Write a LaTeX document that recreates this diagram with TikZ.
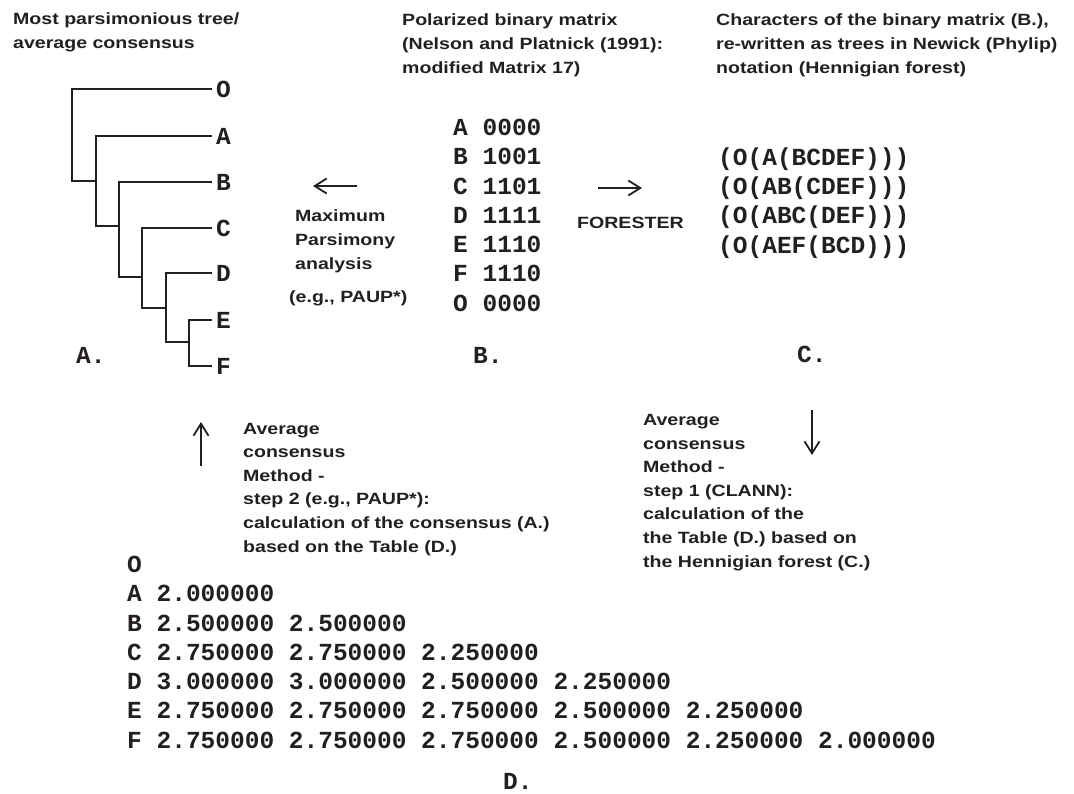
\documentclass[tikz,border=0pt]{standalone}
\usepackage{fontspec}
\usetikzlibrary{arrows.meta}
\newfontfamily\capfont{Liberation Sans}[FakeStretch=1.2]
\newfontfamily\codefont{Liberation Mono}[BoldFont={Liberation Mono Bold}]
\definecolor{ink}{RGB}{35,31,32}

\begin{document}
\begin{tikzpicture}[x=1pt,y=-1pt,
	caption/.style={anchor=base west,inner sep=0pt,align=left,text=ink,
		font=\capfont\bfseries\fontsize{16.3}{23.6}\selectfont},
	code/.style={anchor=base west,inner sep=0pt,align=left,text=ink,
		font=\codefont\bfseries\fontsize{24.5}{29.25}\selectfont},
	leaf/.style={anchor=west,inner sep=4pt,text=ink,
		font=\codefont\bfseries\fontsize{24.5}{29.25}\selectfont},
	branch/.style={draw=ink,line width=1.8pt},
	flow/.style={draw=ink,line width=1.8pt,-{Straight Barb[length=12pt,width=15pt]}}]
			\useasboundingbox (0,0) rectangle (1074,793);

			% headings (placed at the baseline of their last line)
			\node[caption] (capA) at (13,48) {Most parsimonious tree/\\average consensus};
			\node[caption] (capB) at (402,73) {Polarized binary matrix\\(Nelson and Platnick (1991):\\modified Matrix 17)};
			\node[caption] (capC) at (716,73) {Characters of the binary matrix (B.),\\re-written as trees in Newick (Phylip)\\notation (Hennigian forest)};

			% A. tree
			\node[leaf] (tO) at (212,89) {O};
			\node[leaf] (tA) at (212,136) {A};
			\node[leaf] (tB) at (212,182) {B};
			\node[leaf] (tC) at (212,228) {C};
			\node[leaf] (tD) at (212,273) {D};
			\node[leaf] (tE) at (212,320) {E};
			\node[leaf] (tF) at (212,366) {F};
			\coordinate (n0) at (72,181);
			\coordinate (n1) at (96,181);
			\coordinate (n2) at (119,226);
			\coordinate (n3) at (142,277);
			\coordinate (n4) at (166,308);
			\coordinate (n5) at (189,342);
			\draw[branch] (tO) -| (n0) -- (n1);
			\draw[branch] (tA) -| (n1) |- (n2);
			\draw[branch] (tB) -| (n2) |- (n3);
			\draw[branch] (tC) -| (n3) |- (n4);
			\draw[branch] (tD) -| (n4) |- (n5);
			\draw[branch] (tE) -| (n5) |- (tF);
			\node[code] (labA) at (76,363) {A.};

			% maximum parsimony
			\coordinate (mpR) at (357,186);
			\coordinate (mpL) at (313,186);
			\draw[flow] (mpR) -- (mpL);
			\node[caption] (mp) at (295,269) {Maximum\\Parsimony\\analysis};
			\node[caption] (paup) at (289,302) {(e.g., PAUP*)};

			% B. matrix
			\node[code] (matrix) at (453,311) {A 0000\\B 1001\\C 1101\\D 1111\\E 1110\\F 1110\\O 0000};
			\node[code] (labB) at (473,363) {B.};

			% forester
			\coordinate (fsL) at (598,188);
			\coordinate (fsR) at (642,188);
			\draw[flow] (fsL) -- (fsR);
			\node[caption] (forester) at (577,228) {FORESTER};

			% C. newick
			\node[code] (newick) at (718,253) {(O(A(BCDEF)))\\(O(AB(CDEF)))\\(O(ABC(DEF)))\\(O(AEF(BCD)))};
			\node[code] (labC) at (797,362) {C.};

			% consensus steps
			\coordinate (upB) at (201,466);
			\coordinate (upT) at (201,422);
			\draw[flow] (upB) -- (upT);
			\node[caption] (step2) at (243,552) {Average\\consensus\\Method -\\step 2 (e.g., PAUP*):\\calculation of the consensus (A.)\\based on the Table (D.)};
			\coordinate (dnT) at (812,410);
			\coordinate (dnB) at (812,455);
			\draw[flow] (dnT) -- (dnB);
			\node[caption] (step1) at (643,567) {Average\\consensus\\Method -\\step 1 (CLANN):\\calculation of the\\the Table (D.) based on\\the Hennigian forest (C.)};

			% D. table
			\node[code] (table) at (127,748) {O\\A 2.000000\\B 2.500000 2.500000\\C 2.750000 2.750000 2.250000\\D 3.000000 3.000000 2.500000 2.250000\\E 2.750000 2.750000 2.750000 2.500000 2.250000\\F 2.750000 2.750000 2.750000 2.500000 2.250000 2.000000};
			\node[code] (labD) at (503,789) {D.};
\end{tikzpicture}
\end{document}
